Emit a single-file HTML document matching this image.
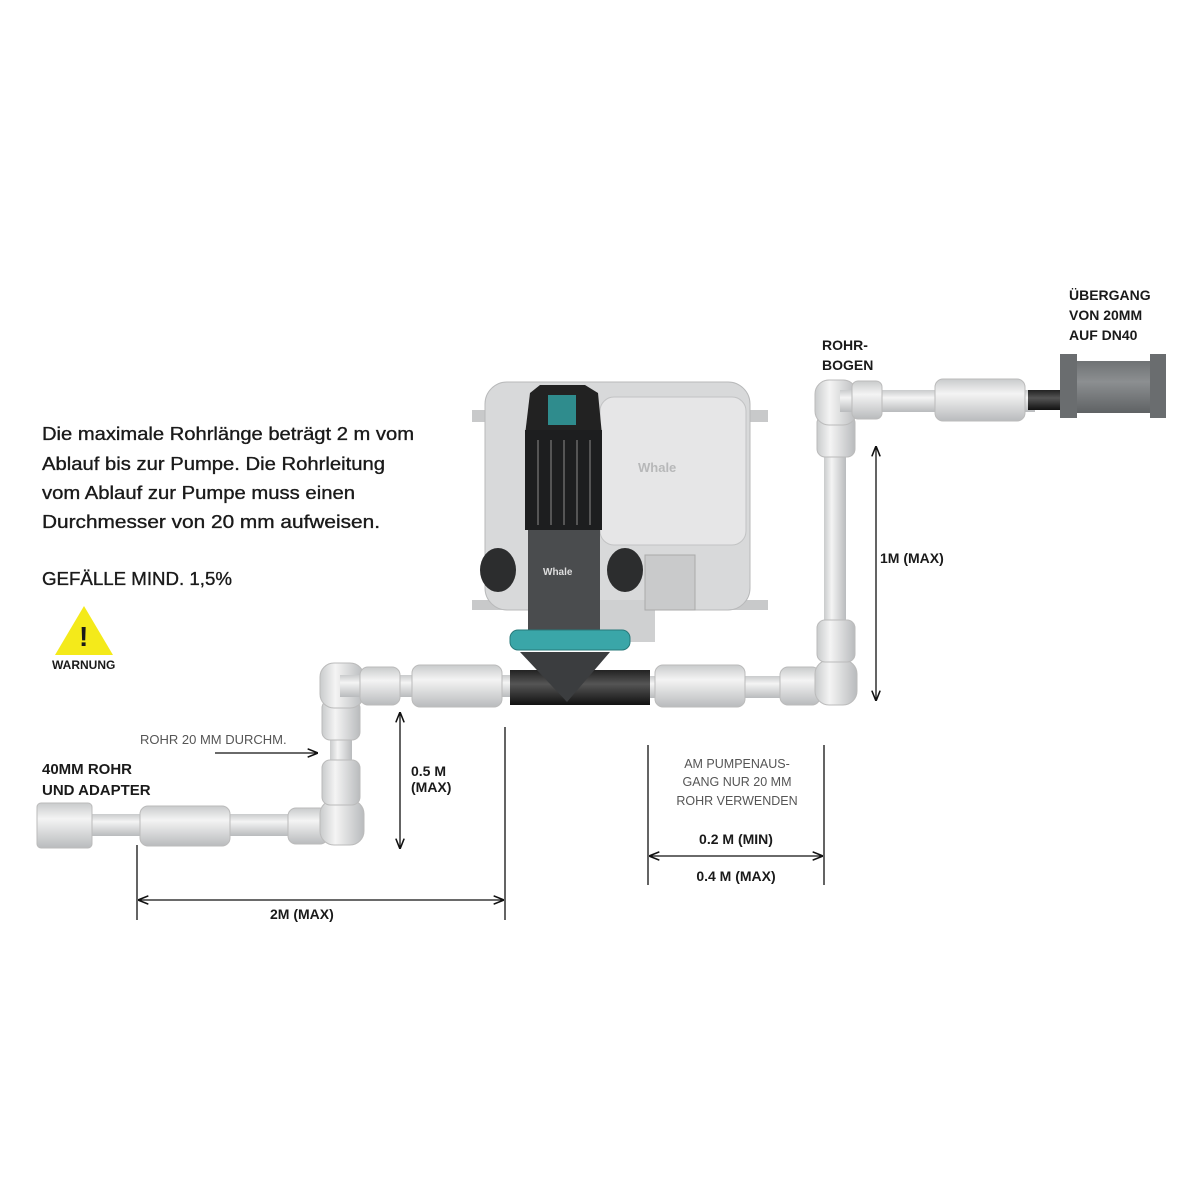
<!DOCTYPE html>
<html><head><meta charset="utf-8"><style>
body{margin:0;background:#fff;}
svg{display:block}
text{font-family:"Liberation Sans",sans-serif;fill:#1a1a1a}
</style></head><body>
<svg width="1200" height="1200" viewBox="0 0 1200 1200" xmlns="http://www.w3.org/2000/svg">
<defs>
<linearGradient id="ph" x1="0" y1="0" x2="0" y2="1"><stop offset="0" stop-color="#c9cbcc"/><stop offset="0.35" stop-color="#f4f4f4"/><stop offset="1" stop-color="#b9bbbd"/></linearGradient>
<linearGradient id="pv" x1="0" y1="0" x2="1" y2="0"><stop offset="0" stop-color="#c9cbcc"/><stop offset="0.35" stop-color="#f4f4f4"/><stop offset="1" stop-color="#b9bbbd"/></linearGradient>
<linearGradient id="gr" x1="0" y1="0" x2="0" y2="1"><stop offset="0" stop-color="#6f7274"/><stop offset="0.4" stop-color="#8c8f91"/><stop offset="1" stop-color="#5f6264"/></linearGradient>
<linearGradient id="bk" x1="0" y1="0" x2="0" y2="1"><stop offset="0" stop-color="#222"/><stop offset="0.4" stop-color="#555"/><stop offset="1" stop-color="#111"/></linearGradient>
<marker id="ar" viewBox="0 0 10 10" refX="9" refY="5" markerWidth="8" markerHeight="8" orient="auto-start-reverse"><path d="M0,1 L10,5 L0,9" fill="none" stroke="#111" stroke-width="1.5"/></marker>
</defs>

<!-- left pipe run -->
<rect x="85" y="814" width="255" height="22" fill="url(#ph)"/>
<rect x="37" y="803" width="55" height="45" rx="4" fill="url(#ph)" stroke="#bbb"/>
<rect x="140" y="806" width="90" height="40" rx="8" fill="url(#ph)" stroke="#bbb"/>
<rect x="288" y="808" width="40" height="36" rx="8" fill="url(#ph)" stroke="#bbb"/>
<rect x="330" y="685" width="22" height="140" fill="url(#pv)"/>
<rect x="320" y="800" width="44" height="45" rx="14" fill="url(#pv)" stroke="#bbb"/>
<rect x="322" y="760" width="38" height="45" rx="8" fill="url(#pv)" stroke="#bbb"/>
<rect x="322" y="700" width="38" height="40" rx="8" fill="url(#pv)" stroke="#bbb"/>
<rect x="320" y="663" width="44" height="45" rx="14" fill="url(#pv)" stroke="#bbb"/>
<rect x="340" y="675" width="175" height="22" fill="url(#ph)"/>
<rect x="360" y="667" width="40" height="38" rx="8" fill="url(#ph)" stroke="#bbb"/>
<rect x="412" y="665" width="90" height="42" rx="8" fill="url(#ph)" stroke="#bbb"/>

<!-- right pipe run -->
<rect x="650" y="676" width="190" height="22" fill="url(#ph)"/>
<rect x="655" y="665" width="90" height="42" rx="8" fill="url(#ph)" stroke="#bbb"/>
<rect x="780" y="667" width="40" height="38" rx="8" fill="url(#ph)" stroke="#bbb"/>
<rect x="824" y="400" width="22" height="290" fill="url(#pv)"/>
<rect x="815" y="660" width="42" height="45" rx="14" fill="url(#pv)" stroke="#bbb"/>
<rect x="817" y="620" width="38" height="42" rx="8" fill="url(#pv)" stroke="#bbb"/>
<rect x="817" y="415" width="38" height="42" rx="8" fill="url(#pv)" stroke="#bbb"/>
<rect x="815" y="380" width="42" height="45" rx="14" fill="url(#pv)" stroke="#bbb"/>
<rect x="840" y="390" width="195" height="22" fill="url(#ph)"/>
<rect x="852" y="381" width="30" height="38" rx="6" fill="url(#ph)" stroke="#bbb"/>
<rect x="935" y="379" width="90" height="42" rx="8" fill="url(#ph)" stroke="#bbb"/>
<rect x="1028" y="390" width="34" height="20" fill="url(#bk)"/>
<rect x="1062" y="361" width="96" height="52" fill="url(#gr)"/>
<rect x="1060" y="354" width="17" height="64" fill="#6a6d6f"/>
<rect x="1150" y="354" width="16" height="64" fill="#6a6d6f"/>

<!-- pump -->
<rect x="472" y="410" width="296" height="12" fill="#c8c9ca"/>
<rect x="472" y="600" width="296" height="10" fill="#c8c9ca"/>
<rect x="485" y="382" width="265" height="228" rx="22" fill="#d8d9da" stroke="#b8b9ba"/>
<rect x="530" y="600" width="125" height="42" fill="#cfd0d1"/>
<rect x="600" y="397" width="146" height="148" rx="14" fill="#e6e6e7" stroke="#c2c3c4"/>
<rect x="645" y="555" width="50" height="55" fill="#c9cacb" stroke="#aaa"/>
<text x="638" y="472" font-size="13" font-weight="bold" style="fill:#b7b8b9">Whale</text>
<ellipse cx="498" cy="570" rx="18" ry="22" fill="#2c2d2e"/>
<ellipse cx="625" cy="570" rx="18" ry="22" fill="#2c2d2e"/>
<path d="M530,393 L540,385 L585,385 L598,393 L602,435 L525,435 Z" fill="#222"/>
<rect x="548" y="395" width="28" height="30" fill="#2f8c8d"/>
<rect x="525" y="430" width="77" height="100" fill="#1d1e1f"/>
<g stroke="#555" stroke-width="2"><line x1="538" y1="440" x2="538" y2="525"/><line x1="551" y1="440" x2="551" y2="525"/><line x1="564" y1="440" x2="564" y2="525"/><line x1="577" y1="440" x2="577" y2="525"/><line x1="590" y1="440" x2="590" y2="525"/></g>
<rect x="528" y="530" width="72" height="100" fill="#4a4c4e"/>
<text x="543" y="575" font-size="10" font-weight="bold" style="fill:#ddd">Whale</text>
<rect x="510" y="630" width="120" height="20" rx="8" fill="#3aa6a8" stroke="#27797a"/>
<rect x="510" y="670" width="140" height="35" fill="url(#bk)"/>
<path d="M520,652 L610,652 L567,702 Z" fill="#3b3d3f"/>

<!-- dimension lines -->
<g stroke="#111" stroke-width="1.3" fill="none">
<line x1="876" y1="447" x2="876" y2="700" marker-start="url(#ar)" marker-end="url(#ar)"/>
<line x1="400" y1="713" x2="400" y2="848" marker-start="url(#ar)" marker-end="url(#ar)"/>
<line x1="137" y1="845" x2="137" y2="920"/>
<line x1="505" y1="727" x2="505" y2="920"/>
<line x1="139" y1="900" x2="503" y2="900" marker-start="url(#ar)" marker-end="url(#ar)"/>
<line x1="648" y1="745" x2="648" y2="885"/>
<line x1="824" y1="745" x2="824" y2="885"/>
<line x1="650" y1="856" x2="822" y2="856" marker-start="url(#ar)" marker-end="url(#ar)"/>
<line x1="215" y1="753" x2="317" y2="753" marker-end="url(#ar)"/>
</g>

<!-- texts -->
<g font-size="18" stroke="#1a1a1a" stroke-width="0.35">
<text x="42" y="440" textLength="372" lengthAdjust="spacingAndGlyphs">Die maximale Rohrlänge beträgt 2 m vom</text>
<text x="42" y="470" textLength="343" lengthAdjust="spacingAndGlyphs">Ablauf bis zur Pumpe. Die Rohrleitung</text>
<text x="42" y="499" textLength="313" lengthAdjust="spacingAndGlyphs">vom Ablauf zur Pumpe muss einen</text>
<text x="42" y="528" textLength="338" lengthAdjust="spacingAndGlyphs">Durchmesser von 20 mm aufweisen.</text>
<text x="42" y="585" textLength="190" lengthAdjust="spacingAndGlyphs">GEFÄLLE MIND. 1,5%</text>
</g>
<path d="M84,606 L113,655 L55,655 Z" fill="#f4ea1a"/>
<text x="79" y="646" font-size="28" font-weight="bold">!</text>
<text x="52" y="669" font-size="12" font-weight="bold">WARNUNG</text>
<text x="140" y="744" font-size="13" style="fill:#555">ROHR 20 MM DURCHM.</text>
<text x="42" y="774" font-size="15" font-weight="bold">40MM ROHR</text>
<text x="42" y="795" font-size="15" font-weight="bold">UND ADAPTER</text>
<text x="411" y="776" font-size="14" font-weight="bold">0.5 M</text>
<text x="411" y="792" font-size="14" font-weight="bold">(MAX)</text>
<text x="270" y="919" font-size="14" font-weight="bold">2M (MAX)</text>
<text x="880" y="563" font-size="14" font-weight="bold">1M (MAX)</text>
<text x="822" y="350" font-size="14" font-weight="bold">ROHR-</text>
<text x="822" y="370" font-size="14" font-weight="bold">BOGEN</text>
<text x="1069" y="300" font-size="14" font-weight="bold">ÜBERGANG</text>
<text x="1069" y="320" font-size="14" font-weight="bold">VON 20MM</text>
<text x="1069" y="340" font-size="14" font-weight="bold">AUF DN40</text>
<g font-size="12.5" text-anchor="middle">
<text x="737" y="768" style="fill:#555">AM PUMPENAUS-</text>
<text x="737" y="786" style="fill:#555">GANG NUR 20 MM</text>
<text x="737" y="805" style="fill:#555">ROHR VERWENDEN</text>
</g>
<text x="736" y="844" font-size="14" font-weight="bold" text-anchor="middle">0.2 M (MIN)</text>
<text x="736" y="881" font-size="14" font-weight="bold" text-anchor="middle">0.4 M (MAX)</text>
</svg>
</body></html>
